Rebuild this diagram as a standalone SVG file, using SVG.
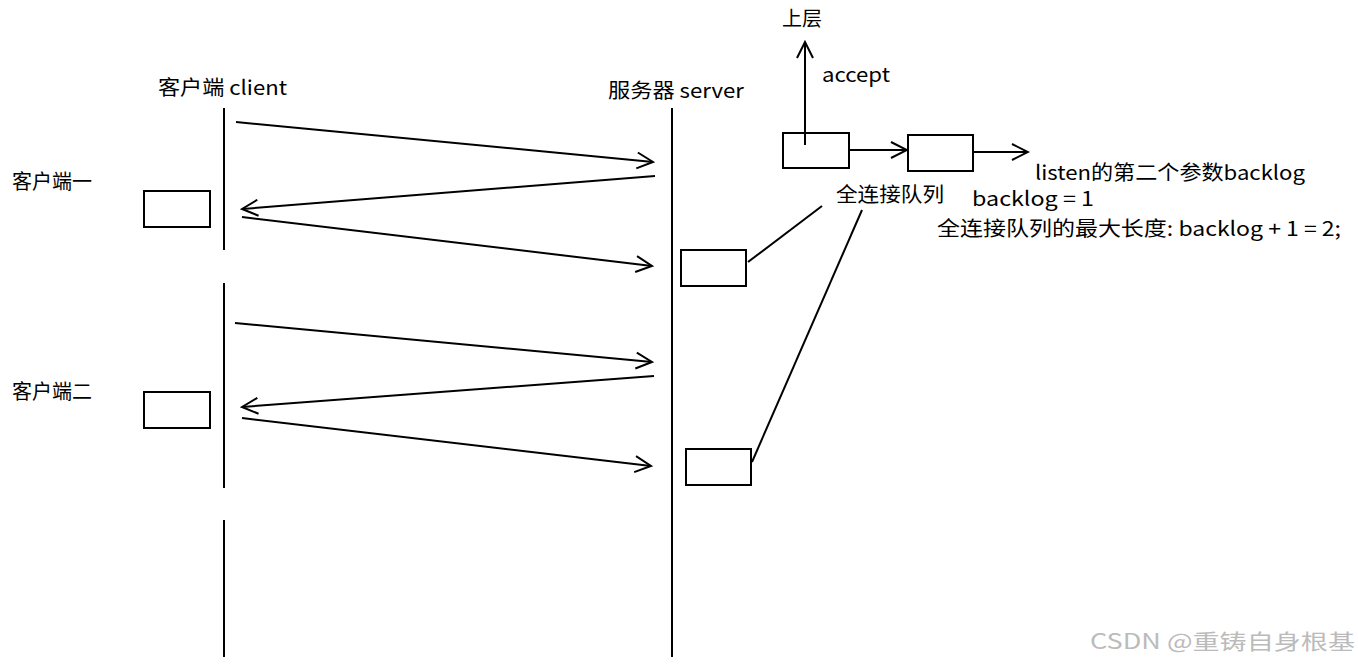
<svg xmlns="http://www.w3.org/2000/svg" width="1358" height="667" viewBox="0 0 1358 667">
<defs>
<style>
.t{font-family:"Noto Sans CJK SC","Liberation Sans",sans-serif;font-size:20px;fill:#000}
.l{stroke:#000;stroke-width:2;fill:none}
.b{stroke:#000;stroke-width:2;fill:#fff}
.a{stroke:#000;stroke-width:2;fill:none;marker-end:url(#v)}
</style>
<marker id="v" viewBox="0 0 20 20" refX="18" refY="10" markerWidth="20" markerHeight="20" markerUnits="userSpaceOnUse" orient="auto">
<path d="M2,2 L18,10 L2,18" fill="none" stroke="#000" stroke-width="2"/>
</marker>
</defs>
<rect width="1358" height="667" fill="#fff"/>
<g id="lifelines">
<line class="l" x1="224" y1="108" x2="224" y2="250"/>
<line class="l" x1="224" y1="283" x2="224" y2="488"/>
<line class="l" x1="224" y1="520" x2="224" y2="657"/>
<line class="l" x1="672" y1="108" x2="672" y2="657"/>
</g>
<g id="labels">
<text class="t" x="158" y="95" textLength="129" lengthAdjust="spacingAndGlyphs">客户端 client</text>
<text class="t" x="608" y="98" textLength="136" lengthAdjust="spacingAndGlyphs">服务器 server</text>
<text class="t" x="12" y="189" font-size="18">客户端一</text>
<text class="t" x="12" y="399" font-size="18">客户端二</text>
<text class="t" x="782" y="26">上层</text>
<text class="t" x="822" y="82" textLength="68" lengthAdjust="spacingAndGlyphs">accept</text>
<text class="t" x="836" y="202" textLength="108" lengthAdjust="spacingAndGlyphs">全连接队列</text>
<text class="t" x="1035" y="180" textLength="270" lengthAdjust="spacingAndGlyphs">listen的第二个参数backlog</text>
<text class="t" x="972" y="206" textLength="122" lengthAdjust="spacingAndGlyphs">backlog = 1</text>
<text class="t" x="937" y="236" textLength="404" lengthAdjust="spacingAndGlyphs">全连接队列的最大长度: backlog + 1 = 2;</text>
<text x="1090" y="649" font-family="'Noto Sans CJK SC','Liberation Sans',sans-serif" font-size="21" fill="#bbb" textLength="265" lengthAdjust="spacingAndGlyphs">CSDN @重铸自身根基</text>
</g>
<g id="box1"><rect class="b" x="144" y="191" width="66" height="36"/></g>
<g id="box2"><rect class="b" x="144" y="392" width="66" height="36"/></g>
<g id="box3"><rect class="b" x="681" y="250" width="65" height="36"/></g>
<g id="box4"><rect class="b" x="686" y="449" width="65" height="36"/></g>
<g id="box5"><rect class="b" x="783" y="133" width="66" height="35"/></g>
<g id="box6"><rect class="b" x="908" y="135" width="65" height="36"/></g>
<g id="connectors">
<line class="a" x1="236" y1="122" x2="653" y2="162"/>
<line class="a" x1="655" y1="176" x2="242" y2="209"/>
<line class="a" x1="242" y1="217" x2="652" y2="266"/>
<line class="a" x1="235" y1="323" x2="652" y2="362"/>
<line class="a" x1="654" y1="376" x2="242" y2="407"/>
<line class="a" x1="242" y1="418" x2="651" y2="466"/>
<line class="l" x1="748" y1="262" x2="822" y2="206"/>
<line class="l" x1="752" y1="462" x2="862" y2="210"/>
<line class="a" x1="805" y1="145" x2="805" y2="42"/>
<line class="a" x1="849" y1="150" x2="907" y2="150"/>
<line class="a" x1="973" y1="152" x2="1028" y2="152"/>
</g>
</svg>
